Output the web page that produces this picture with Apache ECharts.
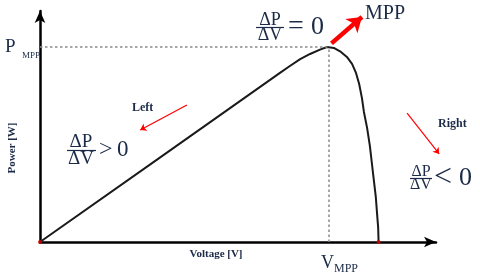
<!DOCTYPE html>
<html><head><meta charset="utf-8">
<script src="https://cdn.jsdelivr.net/npm/echarts@6/dist/echarts.min.js"></script>
<style>html,body{margin:0;padding:0;background:#fff}#c{width:480px;height:273px}</style>
</head><body><div id="c"></div>
<script>
// P-V curve data (voltage, power in arbitrary units 0..100)
const voltage = [0, 30, 60.6, 63.1, 65.7, 68.2, 70.7, 72.5, 74.2, 76.0, 77.5, 78.8, 79.8, 80.6, 81.3, 81.8, 82.6, 83.3, 83.8, 84.3, 84.8, 85.1, 85.4, 85.5];
const power   = [0, 36.2, 73.2, 76.2, 79.2, 81.4, 83.3, 84.4, 84.0, 82.3, 80.1, 77.1, 73.2, 68.4, 62.3, 56.3, 49.4, 41.6, 34.2, 26.8, 19.5, 12.6, 6.1, 0];
const vMPP = 73;
const pMPP = 84.4;
const mppArrow = [[73.6, 86], [81.3, 97.4]];
const leftArrow = [[37.1, 59.3], [25.3, 48.5]];
const rightArrow = [[92.7, 55.8], [100.8, 38.1]];
const endPoints = [[0, 0], [85.5, 0]];

const serif = 'Liberation Serif, DejaVu Serif, serif';
const ink = '#1b2a47';
function txt(text, x, y, size, opts) {
  opts = opts || {};
  return { type: 'text', x: x, y: y, rotation: opts.rot || 0, style: {
    text: text, font: (opts.bold ? 'bold ' : '') + size + 'px ' + serif,
    fill: opts.fill || ink, align: opts.align || 'left', verticalAlign: opts.va || 'middle' } };
}
function bar(x1, x2, y) {
  return { type: 'line', shape: { x1: x1, y1: y, x2: x2, y2: y }, style: { stroke: ink, lineWidth: 1.2 } };
}

const chart = echarts.init(document.getElementById('c'));
chart.setOption({
  animation: false,
  grid: { left: 40, right: 44, top: 11, bottom: 31 },
  xAxis: { type: 'value', min: 0, max: 100, axisLine: { lineStyle: { color: '#000', width: 2.5 }, symbol: ['none', 'arrow'], symbolSize: [8, 12] },
    axisTick: { show: false }, axisLabel: { show: false }, splitLine: { show: false } },
  yAxis: { type: 'value', min: 0, max: 100, axisLine: { show: true, lineStyle: { color: '#000', width: 2.5 }, symbol: ['none', 'arrow'], symbolSize: [8, 12] },
    axisTick: { show: false }, axisLabel: { show: false }, splitLine: { show: false } },
  series: [
    { type: 'line', data: voltage.map((v, i) => [v, power[i]]), smooth: false, showSymbol: false,
      lineStyle: { color: '#1a1a1a', width: 2, join: 'round' }, z: 3,
      markLine: { silent: true, symbol: 'none', label: { show: false },
        lineStyle: { color: '#8a8a8a', width: 1.5, type: [2.5, 2.5] },
        data: [[{ coord: [0, pMPP] }, { coord: [vMPP, pMPP] }], [{ coord: [vMPP, 0] }, { coord: [vMPP, pMPP] }]] } },
    { type: 'lines', coordinateSystem: 'cartesian2d', clip: false, z: 5,
      symbol: ['none', 'arrow'], symbolSize: 14,
      lineStyle: { color: '#ff0000', width: 4.5, opacity: 1 },
      data: [{ coords: mppArrow }] },
    { type: 'lines', coordinateSystem: 'cartesian2d', clip: false, z: 5,
      symbol: ['none', 'arrow'], symbolSize: 6,
      lineStyle: { color: '#ff0000', width: 1.2, opacity: 1 },
      data: [{ coords: leftArrow }, { coords: rightArrow }] },
    { type: 'scatter', data: endPoints, symbolSize: 4, itemStyle: { color: '#e00000' }, z: 6 }
  ],
  graphic: [
    txt('P', 5, 47, 19), txt('MPP', 22, 56, 9),
    txt('V', 321, 263, 18), txt('MPP', 334, 269, 12),
    txt('MPP', 365, 14, 20),
    txt('Left', 132, 108, 12, { bold: true }),
    txt('Right', 438, 124, 12, { bold: true }),
    txt('Voltage [V]', 216, 254, 11, { bold: true, align: 'center' }),
    txt('Power [W]', 12, 148, 11, { bold: true, align: 'center', rot: Math.PI / 2 }),
    // top fraction  ΔP/ΔV = 0
    txt('ΔP', 270, 20, 18, { align: 'center' }), bar(256, 284, 27.5), txt('ΔV', 270, 35, 18, { align: 'center' }),
    txt('=', 288, 27, 28), txt('0', 311, 27, 26),
    // left fraction ΔP/ΔV > 0
    txt('ΔP', 81, 142, 19, { align: 'center' }), bar(67, 96, 150.5), txt('ΔV', 81, 159, 19, { align: 'center' }),
    txt('>', 99, 150, 24), txt('0', 117, 150, 23),
    // right fraction ΔP/ΔV < 0
    txt('ΔP', 421, 172, 16, { align: 'center' }), bar(410, 432, 178.5), txt('ΔV', 421, 185, 16, { align: 'center' }),
    txt('<', 434, 178, 32), txt('0', 459, 178, 26)
  ]
});
</script></body></html>
